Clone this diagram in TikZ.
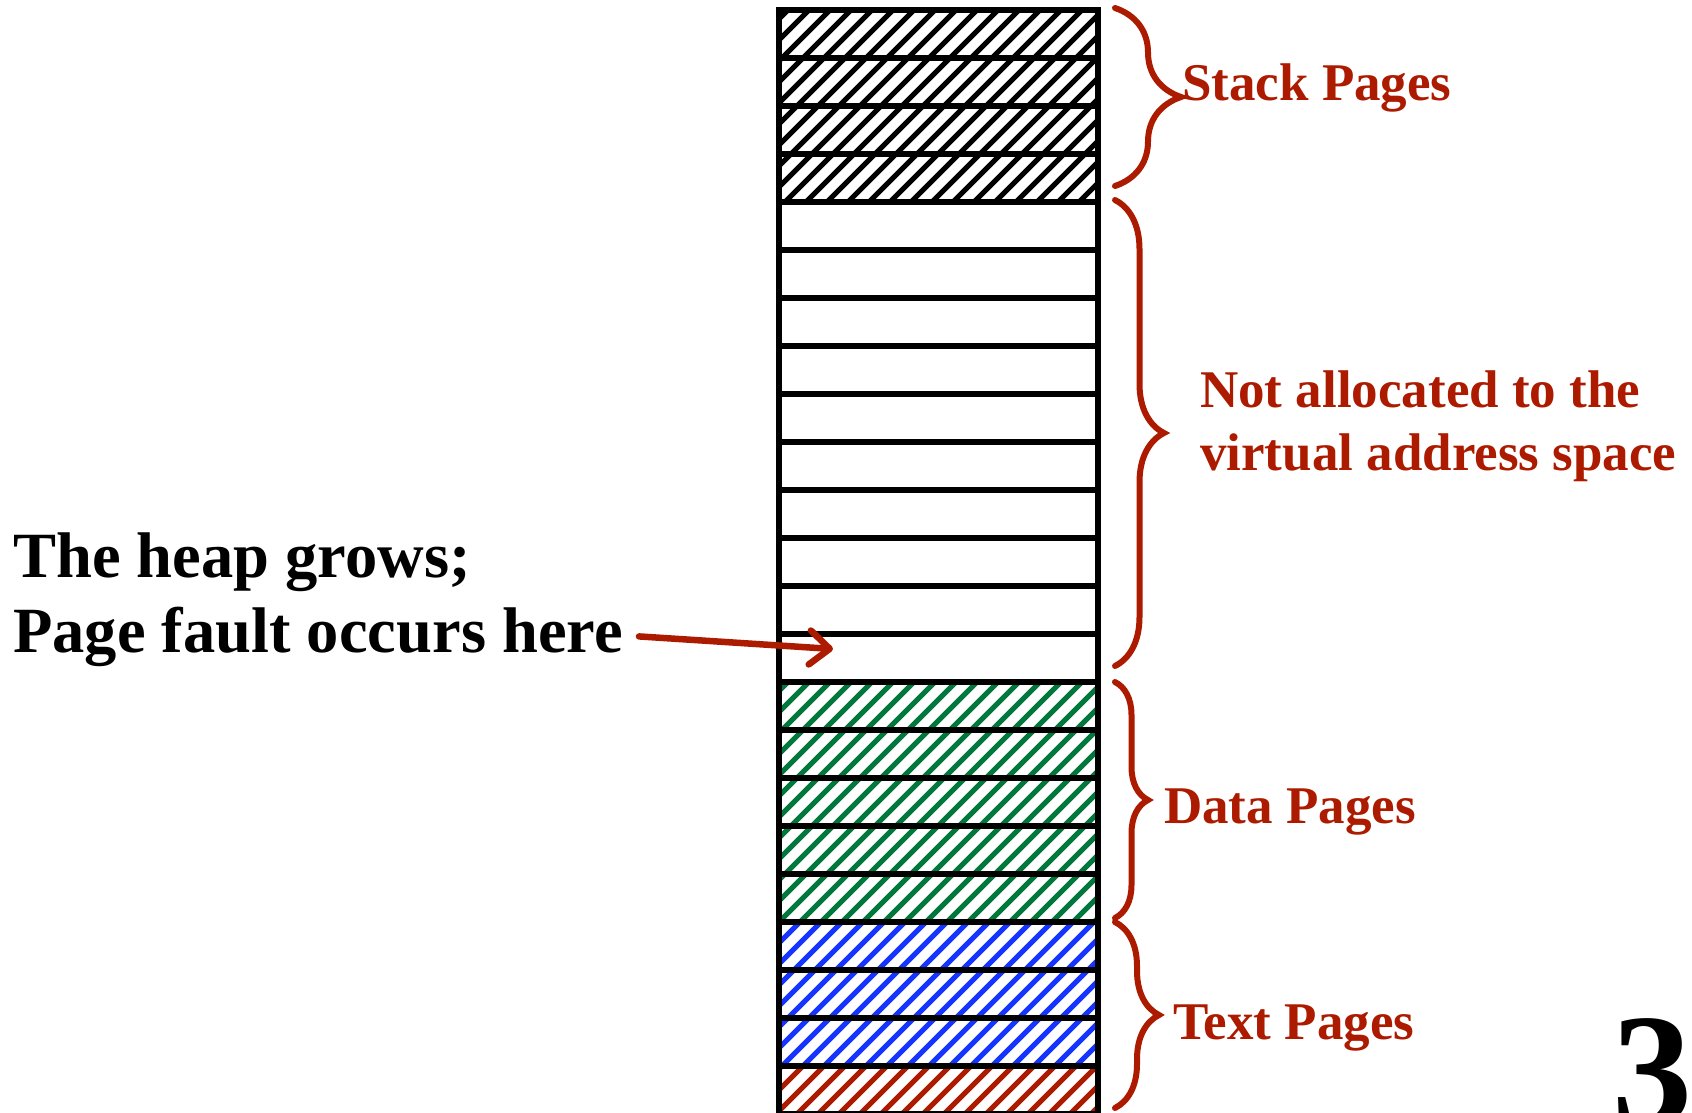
\documentclass[tikz,border=0pt]{standalone}
\usepackage{fontspec}
\setmainfont{Liberation Serif}
\usetikzlibrary{arrows.meta,decorations.pathreplacing}

\definecolor{labelred}{RGB}{172,26,0}
\definecolor{datagreen}{RGB}{0,120,60}
\definecolor{textblue}{RGB}{22,52,255}

% diagonal hatching of a band of the page column, between two y values
\newcommand\hatchband[3]{%
  \begin{scope}
    \clip (779,#2) rectangle (1098,#3);
    \pgfmathtruncatemacro\kfirst{(779+#2)/21}
    \pgfmathtruncatemacro\klast{(1098+#3)/21+1}
    \foreach \k in {\kfirst,...,\klast}{
      \draw[#1, line width=5.2pt] ({21*\k-#3},#3) -- ({21*\k-#2},#2);
    }
  \end{scope}}

\tikzset{
  pagebox/.style={draw=black, line width=6pt, minimum width=319pt,
    minimum height=48pt, inner sep=0pt, outer sep=0pt},
  rbrace/.style={draw=labelred, line width=6pt, line cap=round,
    decorate, decoration={brace, amplitude=#1}},
  sidelabel/.style={text=labelred, font=\fontsize{53}{63}\selectfont\bfseries,
    inner sep=0pt, anchor=base west},
  heaplabel/.style={text=black, font=\fontsize{64.5}{75}\selectfont\bfseries,
    inner sep=0pt, anchor=base west},
  faultarrow/.style={draw=labelred, line width=6.5pt, line cap=round,
    -{Straight Barb[length=20pt,width=34pt,line cap=round,line join=round]}}
}

\begin{document}
\begin{tikzpicture}[x=1pt, y=-1pt]
  \useasboundingbox (0,0) rectangle (1692,1113);

  % hatched bands: stack, data, text (blue) and text (red)
  \hatchband{black}{10}{202}
  \hatchband{datagreen}{682}{922}
  \hatchband{textblue}{922}{1066}
  \hatchband{labelred}{1066}{1114}

  % the 23 pages of the address space, top to bottom
  \foreach \i in {0,...,22}{
    \node[pagebox] (r\i) at (938.5, {34+48*\i}) {};
  }

  % braces grouping the pages
  \draw[rbrace=66pt] (1115,8) -- (1115,186);
  \draw[rbrace=49pt] (1115,200) -- (1115,666);
  \draw[rbrace=33pt] (1115,682) -- (1115,918);
  \draw[rbrace=44pt] (1115,922) -- (1115,1108);

  % region labels
  \node[sidelabel] (stack)  at (1182,101)  {Stack Pages};
  \node[sidelabel] (alloc1) at (1200,407)  {Not allocated to the};
  \node[sidelabel] (alloc2) at (1200,470)  {virtual address space};
  \node[sidelabel] (data)   at (1164,823)  {Data Pages};
  \node[sidelabel] (text)   at (1173,1039) {Text Pages};

  % heap growth note and the faulting page
  \node[heaplabel] (heap1) at (13,577) {The heap grows;};
  \node[heaplabel] (heap2) at (13,652) {Page fault occurs here};
  \coordinate (fault) at (833,649);
  \draw[faultarrow] ([xshift=16pt]heap2.east) -- (fault);

  % slide number, cut by the lower edge
  \node[inner sep=0pt, anchor=base west, font=\fontsize{160}{160}\selectfont\bfseries]
    (slideno) at (1612,1124) {3};
\end{tikzpicture}
\end{document}
